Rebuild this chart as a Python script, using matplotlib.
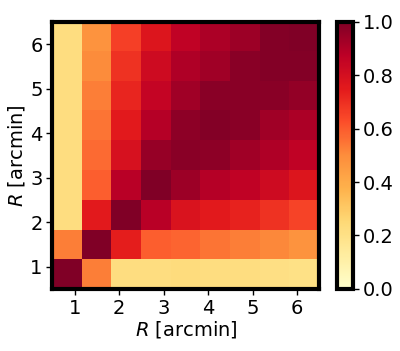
import numpy as np
import matplotlib
matplotlib.use("Agg")
import matplotlib.pyplot as plt

# radial bins (arcmin), correlation matrix rows from bottom (lowest R) to top
r_edges = [0.5, 6.5]
corr = np.array([
    [1.00, 0.53, 0.22, 0.22, 0.23, 0.22, 0.22, 0.21, 0.20],
    [0.53, 1.00, 0.74, 0.59, 0.58, 0.55, 0.53, 0.51, 0.48],
    [0.22, 0.75, 1.00, 0.88, 0.78, 0.75, 0.73, 0.69, 0.65],
    [0.22, 0.59, 0.88, 1.00, 0.94, 0.89, 0.86, 0.82, 0.77],
    [0.22, 0.57, 0.79, 0.95, 0.98, 0.97, 0.93, 0.90, 0.86],
    [0.22, 0.55, 0.75, 0.89, 0.97, 0.99, 0.98, 0.93, 0.91],
    [0.22, 0.53, 0.72, 0.85, 0.93, 0.98, 0.98, 0.98, 0.96],
    [0.22, 0.50, 0.69, 0.82, 0.90, 0.93, 0.98, 0.99, 0.99],
    [0.22, 0.48, 0.66, 0.77, 0.86, 0.91, 0.94, 0.99, 1.00],
])
ticks = [1, 2, 3, 4, 5, 6]
cbar_ticks = [0.0, 0.2, 0.4, 0.6, 0.8, 1.0]

plt.rcParams['font.size'] = 14

fig = plt.figure(figsize=(4.0, 3.51), dpi=100)
ax = fig.add_axes([0.131, 0.177, 0.6675, 0.761])
cax = fig.add_axes([0.8425, 0.177, 0.04, 0.761])

im = ax.imshow(corr, origin='lower', cmap='YlOrRd', vmin=0, vmax=1,
               extent=[r_edges[0], r_edges[1], r_edges[0], r_edges[1]],
               interpolation='nearest', aspect='auto')
ax.set_xticks(ticks)
ax.set_yticks(ticks)
ax.set_xlabel(r'$R$ [arcmin]', labelpad=1)
ax.set_ylabel(r'$R$ [arcmin]', labelpad=2)
ax.tick_params(length=4, width=1, pad=3)
for s in ax.spines.values():
    s.set_linewidth(3)

cb = fig.colorbar(im, cax=cax, ticks=cbar_ticks)
cb.outline.set_linewidth(3)
cb.ax.tick_params(length=4, width=1, pad=3)

fig.savefig('out.png', dpi=100)
